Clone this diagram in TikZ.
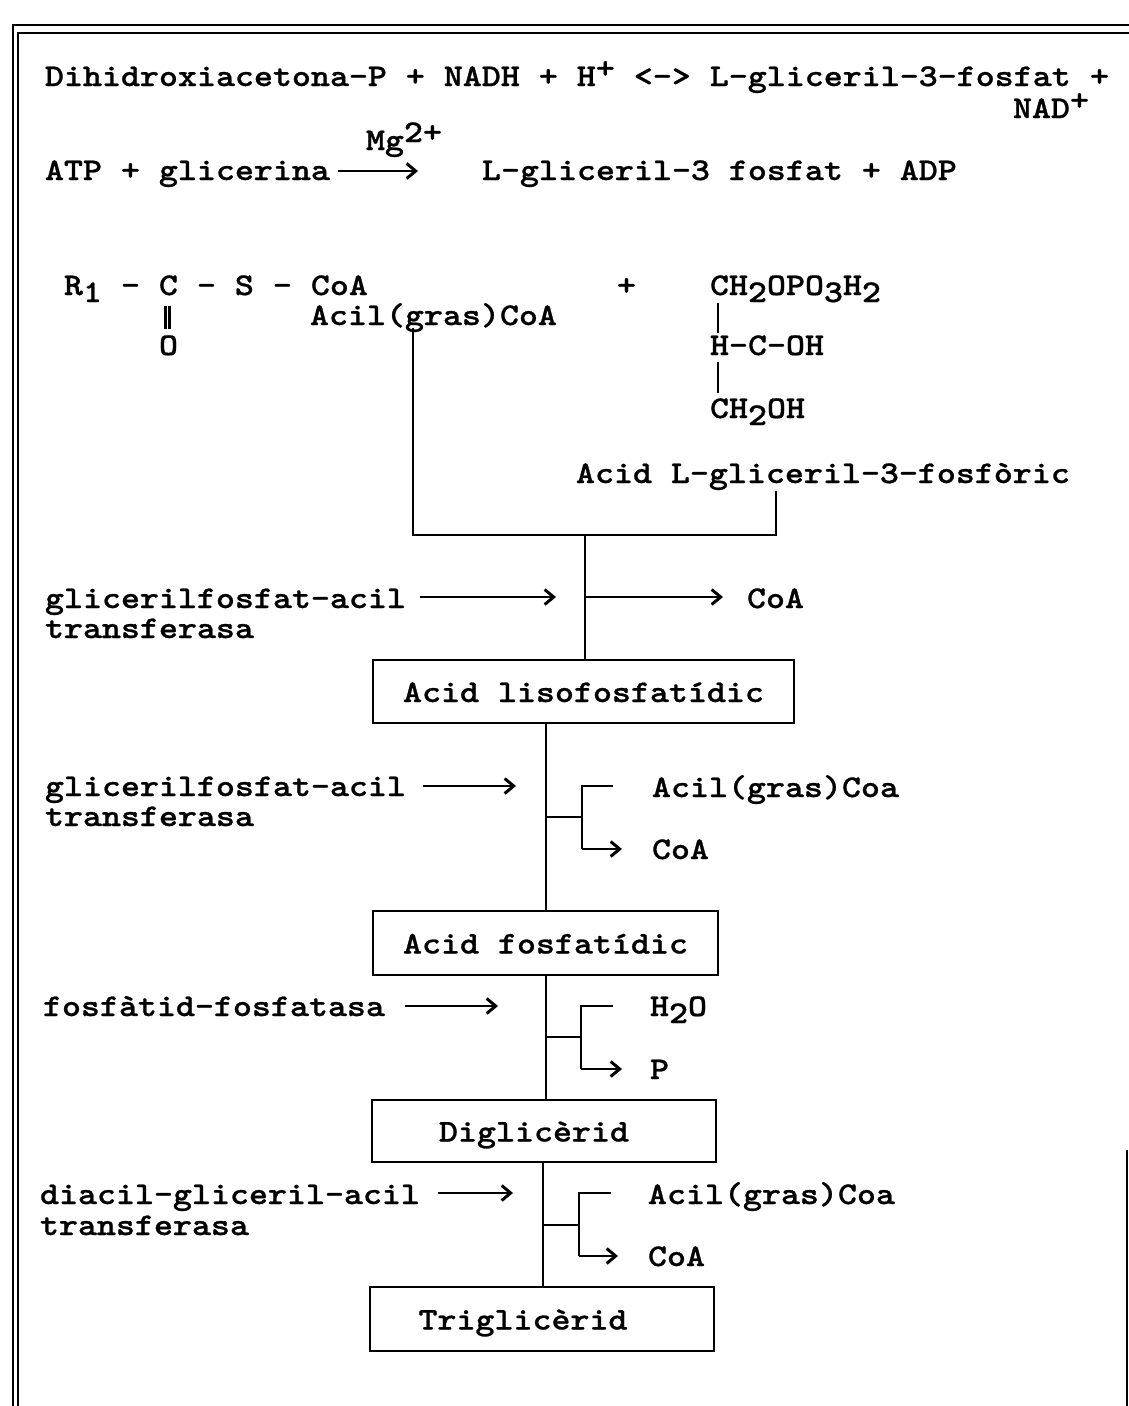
\documentclass[tikz,border=0pt]{standalone}
\usepackage{fontspec}
\usetikzlibrary{arrows.meta}
\newfontface\monof{lmmonolt10-bold.otf}[FakeStretch=1.145,FakeBold=0.8]
\newcommand{\upc}[1]{\raisebox{8pt}{#1}}
\newcommand{\dnc}[1]{\raisebox{-7pt}{#1}}
\tikzset{
  x=1pt,y=-1pt,
  txt/.style={anchor=base west,inner sep=0pt,outer sep=0pt,font=\fontsize{31.6}{36}\monof},
  boxn/.style={draw=black,line width=2.8pt,inner sep=0pt,text height=22pt,text depth=1pt,font=\fontsize{31.6}{36}\monof},
  ln/.style={line width=2.8pt,draw=black},
  frm/.style={line width=2.5pt,draw=black},
  arr/.style={line width=2.8pt,draw=black,-{Straight Barb[length=9pt,width=15pt,line width=3pt]}},
}
\begin{document}
\begin{tikzpicture}
\useasboundingbox (0,0) rectangle (1129,1406);
% frame
\draw[frm] (13,1406) -- (13,25) -- (1129,25);
\draw[frm] (18,1406) -- (18,33) -- (1129,33);
\draw[frm] (1127,1150) -- (1127,1406);
% equations
\node[txt] (eqa) at (45,86) {Dihidroxiacetona-P + NADH + H\upc{+} <-> L-gliceril-3-fosfat};
\node[txt] (eqb) at (1090,86) {+};
\node[txt] (nad) at (1013,118) {NAD\upc{+}};
\node[txt] (mg) at (366,150) {Mg\upc{2+}};
\node[txt] (atp) at (45,180) {ATP + glicerina};
\node[txt] (lgl) at (482,180) {L-gliceril-3 fosfat + ADP};
\coordinate (m1) at (338,171);
\coordinate (m2) at (418,171);
\draw[arr] (m1) -- (m2);
% acyl CoA
\node[txt] (rone) at (64,295) {R\dnc{1} - C - S - CoA};
\node[txt] (acil) at (310,325) {Acil(gras)CoA};
\node[txt] (oxy) at (159,355) {O};
\node[txt] (plus) at (617,295) {+};
\coordinate (da) at (165.5,306);
\coordinate (db) at (169.5,306);
\draw[ln,line width=2.2pt] (da) -- ++(0,23);
\draw[ln,line width=2.2pt] (db) -- ++(0,23);
% glycerol P
\node[txt] (chp) at (710,295) {CH\dnc{2}OPO\dnc{3}H\dnc{2}};
\node[txt] (hco) at (710,355) {H-C-OH};
\node[txt] (cho) at (710,418) {CH\dnc{2}OH};
\node[txt] (lac) at (576,483) {Acid L-gliceril-3-fosfòric};
\draw[ln] (718,303) -- (718,333);
\draw[ln] (718,362) -- (718,393);
% merge
\coordinate (ja) at (413,535);
\coordinate (jb) at (776,535);
\coordinate (jc) at (585,535);
\draw[ln] (413,328) -- (ja) -- (jb) -- (776,491);
% boxes
\node[boxn,minimum width=421pt,minimum height=63pt] (b1) at (583.5,691.5) {Acid lisofosfatídic};
\node[boxn,minimum width=345pt,minimum height=64pt] (b2) at (545.5,943) {Acid fosfatídic};
\node[boxn,minimum width=344pt,minimum height=62pt] (b3) at (544,1131) {Diglicèrid\kern20pt};
\node[boxn,minimum width=344pt,minimum height=64pt] (b4) at (542,1319) {Triglicèrid\kern38pt};
\draw[ln] (jc) -- (b1.north -| jc);
% step 1
\node[txt] (e1) at (45,608) {glicerilfosfat-acil};
\node[txt] (e1b) at (45,638) {transferasa};
\node[txt] (c1) at (747,608) {CoA};
\coordinate (s1) at (585,597);
\coordinate (a1) at (420,597);
\coordinate (a1e) at (556,597);
\coordinate (r1e) at (723,597);
\draw[arr] (a1) -- (a1e);
\draw[arr] (s1) -- (r1e);
% step 2
\node[txt] (e2) at (45,796) {glicerilfosfat-acil};
\node[txt] (e2b) at (45,826) {transferasa};
\node[txt] (t2) at (652,797) {Acil(gras)Coa};
\node[txt] (c2) at (652,859) {CoA};
\coordinate (s2) at (546,817);
\coordinate (v2) at (582,817);
\draw[ln] (b1.south -| s2) -- (b2.north -| s2);
\draw[ln] (s2) -- (v2);
\draw[ln] (613,786) -- (582,786) -- (582,849);
\draw[arr] (582,849) -- (622,849);
\draw[arr] (423,786) -- (516,786);
% step 3
\node[txt] (e3) at (43,1016) {fosfàtid-fosfatasa};
\node[txt] (t3) at (650,1016) {H\dnc{2}O};
\node[txt] (c3) at (650,1079) {P};
\coordinate (s3) at (546,1037);
\coordinate (v3) at (581,1037);
\draw[ln] (b2.south -| s3) -- (b3.north -| s3);
\draw[ln] (s3) -- (v3);
\draw[ln] (613,1006) -- (581,1006) -- (581,1069);
\draw[arr] (581,1069) -- (622,1069);
\draw[arr] (405,1006) -- (498,1006);
% step 4
\node[txt] (e4) at (40,1204) {diacil-gliceril-acil};
\node[txt] (e4b) at (40,1235) {transferasa};
\node[txt] (t4) at (648,1204) {Acil(gras)Coa};
\node[txt] (c4) at (648,1266) {CoA};
\coordinate (s4) at (543,1225);
\coordinate (v4) at (579,1225);
\draw[ln] (b3.south -| s4) -- (b4.north -| s4);
\draw[ln] (s4) -- (v4);
\draw[ln] (611,1193) -- (579,1193) -- (579,1256);
\draw[arr] (579,1256) -- (618,1256);
\draw[arr] (438,1193) -- (513,1193);
% stem of the first step
\draw[ln] (jc) -- (s1);
\end{tikzpicture}
\end{document}
